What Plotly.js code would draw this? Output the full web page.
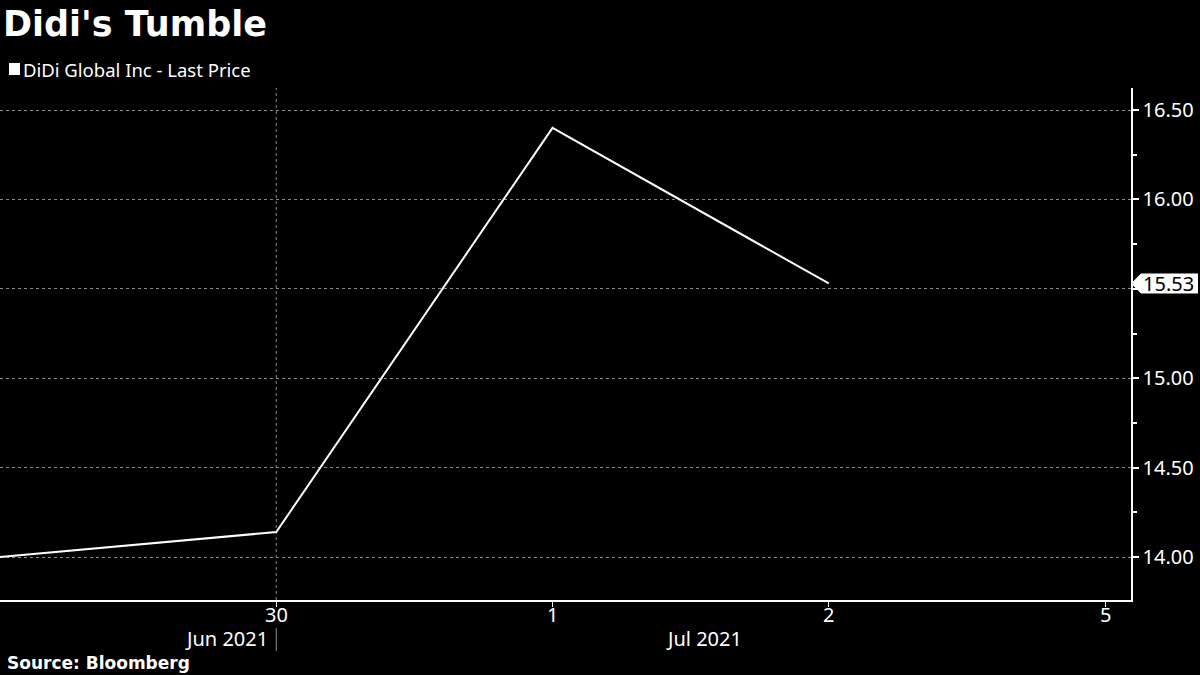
<!DOCTYPE html>
<html>
<head>
<meta charset="utf-8">
<script src="https://cdn.plot.ly/plotly-3.0.1.min.js"></script>
<style>
html,body{margin:0;padding:0;background:#000;}
#chart{width:1200px;height:675px;}
</style>
</head>
<body>
<div id="chart"></div>
<script>
// ---- data ----
const dates = ['2021-06-29', '2021-06-30', '2021-07-01', '2021-07-02', '2021-07-05'];
const prices = [14.00, 14.14, 16.40, 15.53, null];
const tickDates = ['2021-06-30', '2021-07-01', '2021-07-02', '2021-07-05'];
const tickLabels = ['30', '1', '2', '5'];
const yTicks = [14.00, 14.50, 15.00, 15.50, 16.00, 16.50];
const seriesName = 'DiDi Global Inc - Last Price';
const lastPrice = 15.53;

const W = 1200, H = 675;
const mL = 0, mR = 69, mT = 88, mB = 75;
const pw = W - mL - mR, ph = H - mT - mB;
const px = v => (v - mL) / pw;         // pixel -> paper x
const py = v => (H - mB - v) / ph;      // pixel -> paper y

const FONT = 'Noto Sans';
const BOLD = 'DejaVu Sans';
const yRange = [13.76, 16.623];
const yPerPx = (yRange[1] - yRange[0]) / ph;

const trace = {
  x: dates,
  y: prices,
  type: 'scatter',
  mode: 'lines',
  name: seriesName,
  line: {color: '#ffffff', width: 2},
  hoverinfo: 'x+y'
};

const idx = dates.indexOf('2021-06-30');

// hide the tick label hidden under the last-price flag
const yTickText = yTicks.map(v => Math.abs(v - lastPrice) < 0.1 ? '' : v.toFixed(2));

const xTickAnn = tickDates.map((d, i) => ({
  text: tickLabels[i], xref: 'x', yref: 'paper', x: dates.indexOf(d), y: py(614),
  xanchor: 'center', yanchor: 'middle', showarrow: false,
  font: {family: FONT, size: 20, color: '#fff'}
}));

const layout = {
  width: W, height: H,
  paper_bgcolor: '#000', plot_bgcolor: '#000',
  margin: {l: mL, r: mR, t: mT, b: mB, pad: 0},
  showlegend: false,
  font: {family: FONT, color: '#fff'},
  xaxis: {
    type: 'category',
    categoryorder: 'array',
    categoryarray: dates,
    range: [0, 4.094],
    tickmode: 'array',
    tickvals: tickDates,
    ticktext: tickLabels.map(() => ''),
    ticks: 'outside', ticklen: 5, tickcolor: '#fff', tickwidth: 1,
    showgrid: false,
    zeroline: false,
    showline: true, linecolor: '#fff', linewidth: 1.5,
    fixedrange: true
  },
  yaxis: {
    side: 'right',
    range: yRange,
    tickmode: 'array',
    tickvals: yTicks,
    ticktext: yTickText,
    ticks: 'outside', ticklen: 6, tickcolor: '#fff', tickwidth: 2,
    tickfont: {family: FONT, size: 20, color: '#fff'},
    showgrid: true, gridcolor: '#8a8a8a', griddash: 'dot', gridwidth: 1,
    minor: {dtick: 0.25, ticks: 'outside', ticklen: 4, tickcolor: '#fff', showgrid: false},
    zeroline: false,
    showline: true, linecolor: '#fff', linewidth: 1.5,
    fixedrange: true
  },
  shapes: [
    {type: 'line', xref: 'x', yref: 'paper', x0: idx, x1: idx, y0: 0, y1: 1,
     line: {color: '#8a8a8a', width: 1, dash: 'dot'}, layer: 'below'},
    {type: 'line', xref: 'x', yref: 'paper', x0: idx, x1: idx, y0: py(628), y1: py(651),
     line: {color: '#8a8a8a', width: 1}},
    {type: 'rect', xref: 'paper', yref: 'paper', x0: px(9), x1: px(20), y0: py(75), y1: py(63),
     fillcolor: '#fff', line: {width: 0}},
    {type: 'path', xref: 'paper', yref: 'y',
     path: `M ${px(1131)} ${lastPrice} L ${px(1141)} ${lastPrice + 10*yPerPx} L ${px(1198)} ${lastPrice + 10*yPerPx} L ${px(1198)} ${lastPrice - 10*yPerPx} L ${px(1141)} ${lastPrice - 10*yPerPx} Z`,
     fillcolor: '#fff', line: {width: 0}}
  ],
  annotations: [
    {text: "<b>Didi's Tumble</b>", xref: 'paper', yref: 'paper', x: px(1), y: py(24),
     xanchor: 'left', yanchor: 'middle', showarrow: false,
     font: {family: BOLD, size: 35, color: '#fff'}},
    {text: seriesName, xref: 'paper', yref: 'paper', x: px(21), y: py(69),
     xanchor: 'left', yanchor: 'middle', showarrow: false,
     font: {family: FONT, size: 18.5, color: '#fff'}},
    {text: lastPrice.toFixed(2), xref: 'paper', yref: 'y', x: px(1141), y: lastPrice,
     xanchor: 'left', yanchor: 'middle', showarrow: false,
     font: {family: FONT, size: 20, color: '#000'}},
    {text: 'Jun 2021', xref: 'paper', yref: 'paper', x: px(270), y: py(638),
     xanchor: 'right', yanchor: 'middle', showarrow: false,
     font: {family: FONT, size: 20, color: '#fff'}},
    {text: 'Jul 2021', xref: 'paper', yref: 'paper', x: px(704), y: py(638),
     xanchor: 'center', yanchor: 'middle', showarrow: false,
     font: {family: FONT, size: 20, color: '#fff'}},
    {text: '<b>Source: Bloomberg</b>', xref: 'paper', yref: 'paper', x: px(5), y: py(663),
     xanchor: 'left', yanchor: 'middle', showarrow: false,
     font: {family: BOLD, size: 17, color: '#fff'}}
  ].concat(xTickAnn)
};

Plotly.newPlot('chart', [trace], layout, {displayModeBar: false, staticPlot: true});
</script>
</body>
</html>
